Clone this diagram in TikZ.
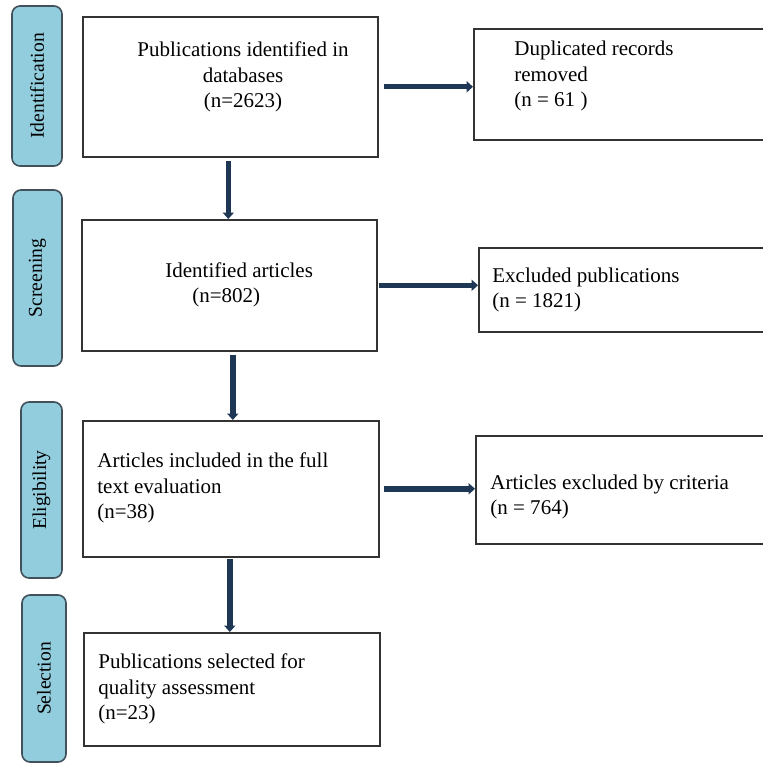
\documentclass[tikz,border=0pt]{standalone}
\usepackage{fontspec}
\setmainfont{Liberation Serif}
\usepackage{tikz}
\usetikzlibrary{arrows.meta, positioning}

\definecolor{stageBlue}{RGB}{146,205,221}   % light blue
\definecolor{stageEdge}{RGB}{65,80,90}      % dark slate
\definecolor{flowNavy}{RGB}{30,55,85}       % arrows

\begin{document}
\begin{tikzpicture}[
    x=0.5pt, y=-0.5pt,
    stage/.style={draw=stageEdge, line width=0.8pt, fill=stageBlue,
                  rounded corners=4pt, rotate=90, inner sep=0pt,
                  font=\fontsize{9.8}{11}\selectfont},
    mainbox/.style={draw=black!80, line width=0.8pt, fill=white,
                    anchor=north west, inner sep=0pt},
    boxtext/.style={inner sep=0pt, font=\fontsize{10.5}{12.6}\selectfont},
    flow/.style={draw=flowNavy, line width=2.7pt,
                 -{Triangle[length=3.2pt, width=5.5pt]}},
]

\useasboundingbox (0,0) rectangle (763,763);
\clip (0,0) rectangle (763,763);

% ============================================================
% STAGES (left column)
% ============================================================
\node[stage, minimum width=80pt, minimum height=25pt] (stid) at (37,86) {Identification};
\node[stage, minimum width=88pt, minimum height=24.5pt] (stscr) at (37.5,278) {Screening};
\node[stage, minimum width=88pt, minimum height=20.5pt] (stelig) at (41.5,490) {Eligibility};
\node[stage, minimum width=83.5pt, minimum height=22pt] (stsel) at (44,678.5) {Selection};

% ============================================================
% MAIN BOXES
% ============================================================
\node[mainbox, minimum width=147.5pt, minimum height=70pt] (idbox) at (82,16) {};
\node[mainbox, minimum width=147.5pt, minimum height=65.5pt] (scrbox) at (81,219) {};
\node[mainbox, minimum width=148pt, minimum height=68pt] (eligbox) at (82,420) {};
\node[mainbox, minimum width=148pt, minimum height=56.5pt] (selbox) at (83,632) {};

\node[boxtext, align=center] (idtxt) at (243,77)
    {Publications identified in\\databases\\(n=2623)};
\node[boxtext, align=left, anchor=west] (scrtxt) at (165,285)
    {Identified articles\\\hspace*{13.5pt}(n=802)};
\node[boxtext, align=left, anchor=west] (eligtxt) at (97,488)
    {Articles included in the full\\text evaluation\\(n=38)};
\node[boxtext, align=left, anchor=west] (seltxt) at (98,689)
    {Publications selected for\\quality assessment\\(n=23)};

% ============================================================
% EXCLUSION BOXES (right column)
% ============================================================
\node[mainbox, minimum width=163.5pt, minimum height=55.5pt] (dupbox) at (473,28) {};
\node[mainbox, minimum width=161pt, minimum height=42pt] (exclbox) at (478,247) {};
\node[mainbox, minimum width=162.5pt, minimum height=54pt] (critbox) at (475,435) {};

\node[boxtext, align=left, anchor=west] (duptxt) at (514,76)
    {Duplicated records\\removed\\(n = 61 )};
\node[boxtext, align=left, anchor=west] (excltxt) at (492,290)
    {Excluded publications\\(n = 1821)};
\node[boxtext, align=left, anchor=west] (crittxt) at (490,497)
    {Articles excluded by criteria\\(n = 764)};

% ============================================================
% ARROWS
% ============================================================
\draw[flow] ([xshift=2.5pt]idbox.east) -- (idbox.east -| dupbox.west);
\draw[flow] ([xshift=0.5pt]scrbox.east) -- (scrbox.east -| exclbox.west);
\draw[flow] ([xshift=2pt]eligbox.east) -- (eligbox.east -| critbox.west);

\draw[flow] ([xshift=-1pt, yshift=-1.5pt]idbox.south) -- ([xshift=-1pt]idbox.south |- scrbox.north);
\draw[flow] ([xshift=1.75pt, yshift=-1.5pt]scrbox.south) -- ([xshift=1.75pt]scrbox.south |- eligbox.north);
\draw[flow] ([xshift=-0.5pt, yshift=-0.5pt]eligbox.south) -- ([xshift=-0.5pt]eligbox.south |- selbox.north);

\end{tikzpicture}
\end{document}
